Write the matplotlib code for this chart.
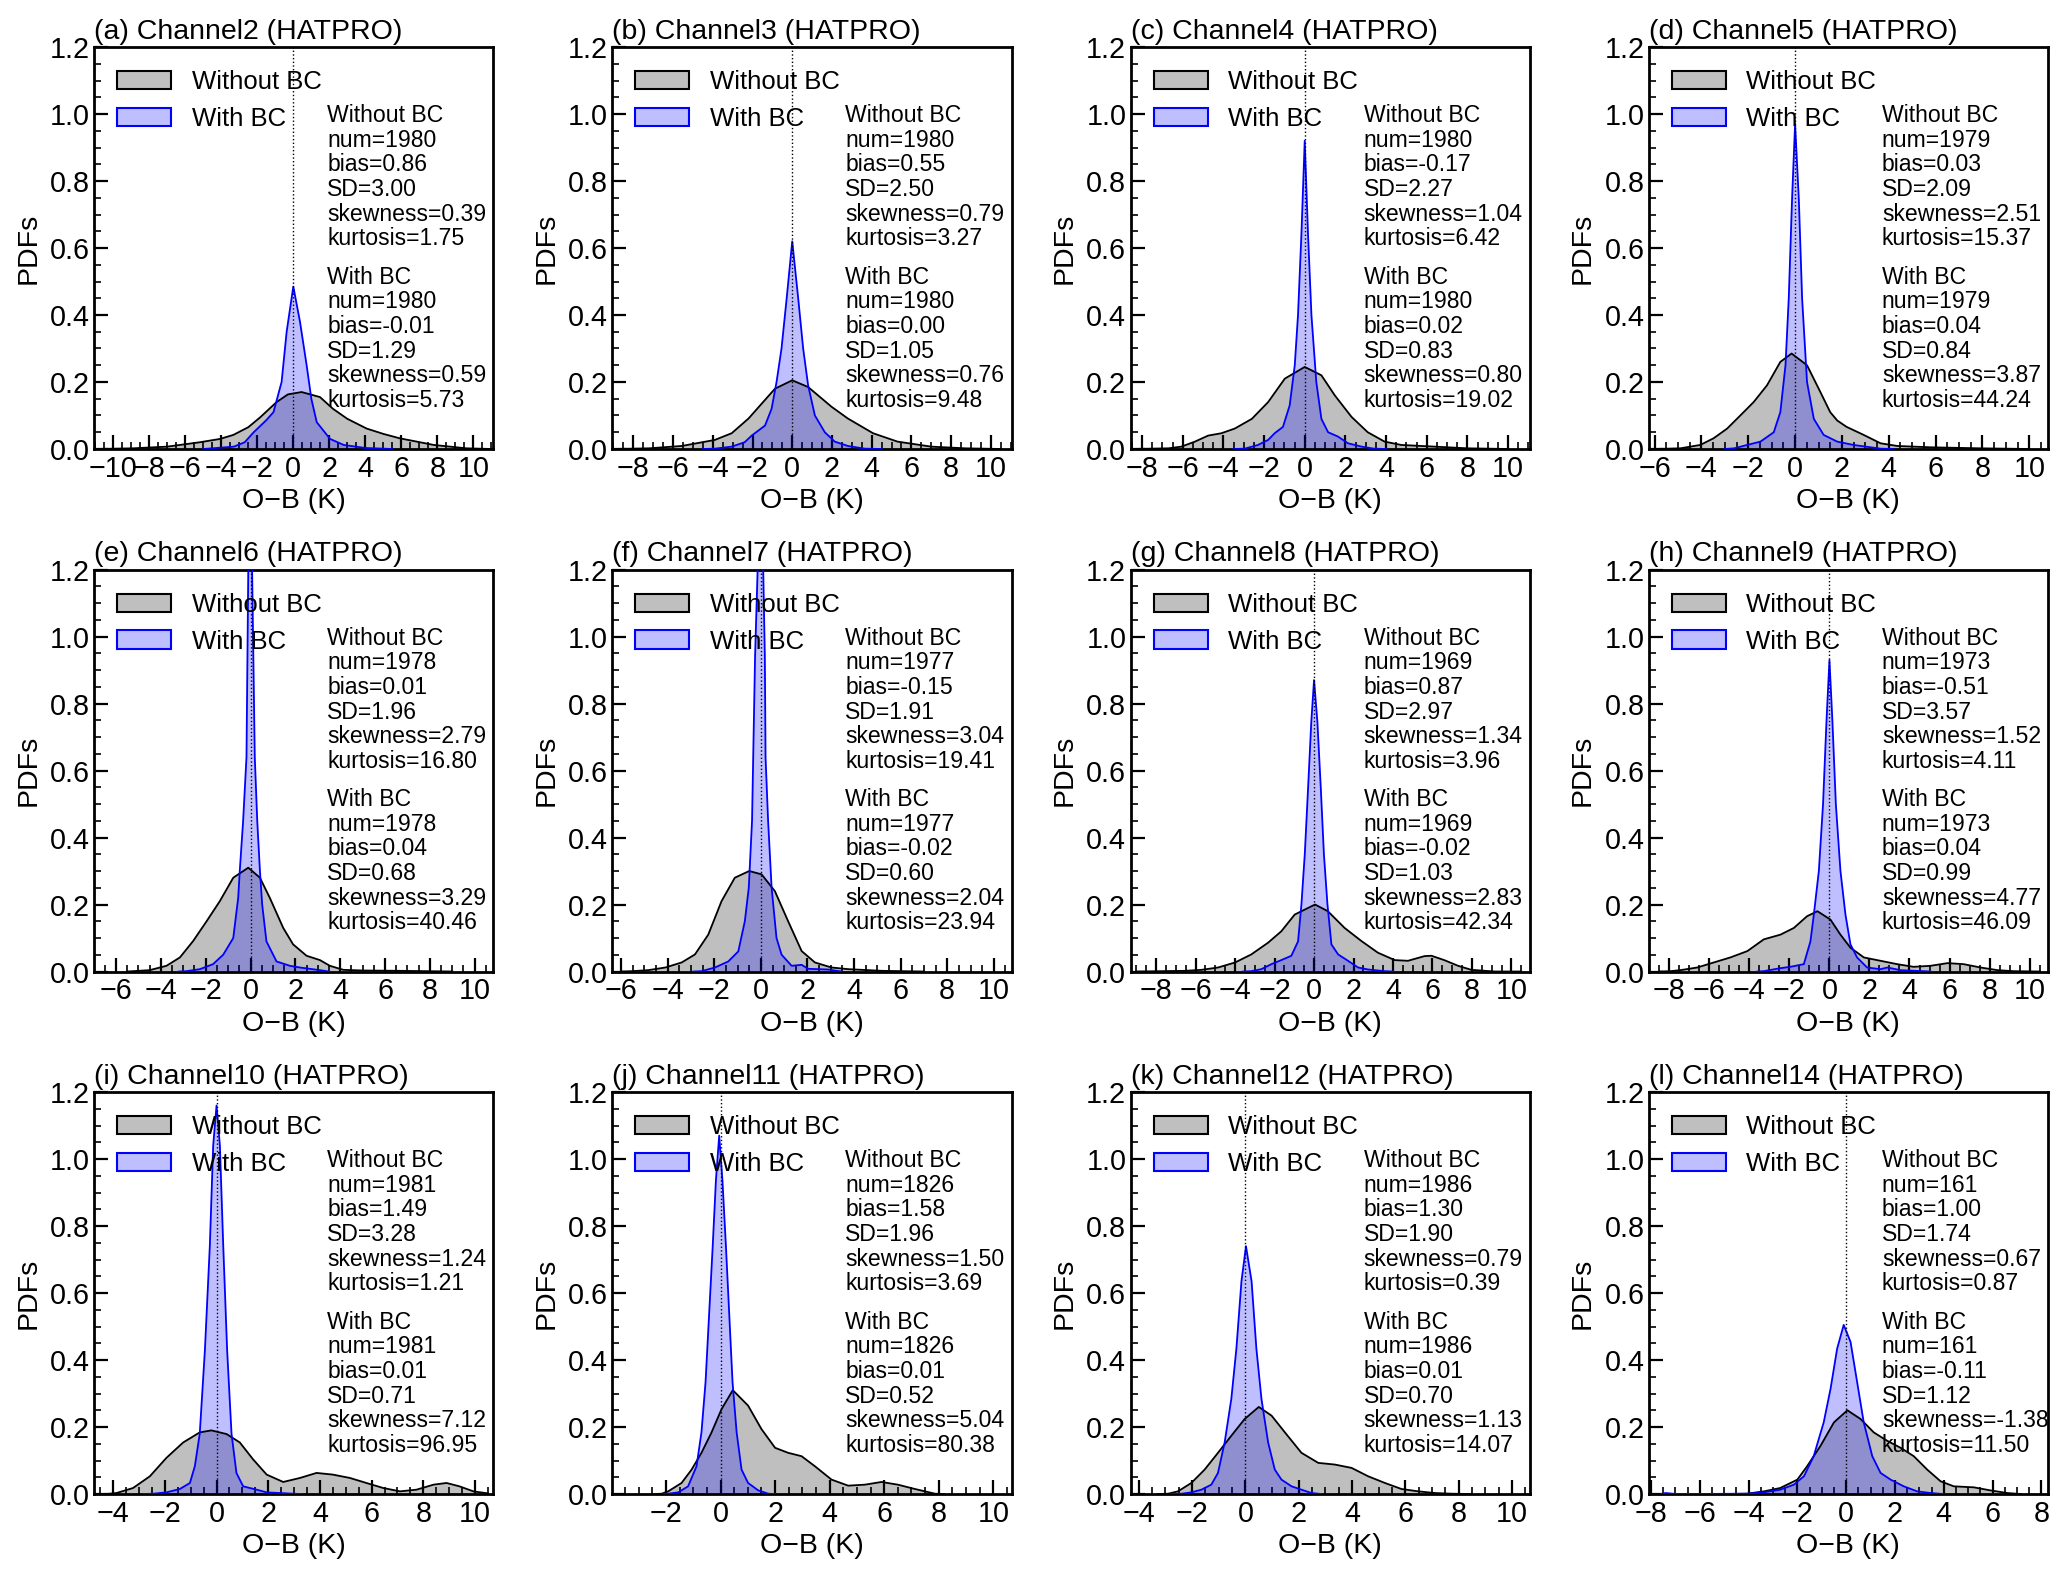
import matplotlib
matplotlib.use("Agg")
import matplotlib.pyplot as plt
from matplotlib.patches import Patch
from matplotlib.ticker import MultipleLocator

plt.rcParams['font.family'] = ['Liberation Sans', 'DejaVu Sans']

# ---------------- data ----------------
letters = ['a', 'b', 'c', 'd', 'e', 'f', 'g', 'h', 'i', 'j', 'k', 'l']
channels = [2, 3, 4, 5, 6, 7, 8, 9, 10, 11, 12, 14]
xlims = [(-11.06, 11.1), (-9.06, 11.04), (-8.57, 11.07), (-6.25, 10.8),
         (-6.98, 10.83), (-6.38, 10.76), (-9.3, 10.93), (-9.03, 10.92),
         (-4.74, 10.71), (-3.97, 10.67), (-4.31, 10.66), (-8.09, 8.27)]

# statistics (Without BC)
wo_num = [1980, 1980, 1980, 1979, 1978, 1977, 1969, 1973, 1981, 1826, 1986, 161]
wo_bias = [0.86, 0.55, -0.17, 0.03, 0.01, -0.15, 0.87, -0.51, 1.49, 1.58, 1.30, 1.00]
wo_sd = [3.00, 2.50, 2.27, 2.09, 1.96, 1.91, 2.97, 3.57, 3.28, 1.96, 1.90, 1.74]
wo_skew = [0.39, 0.79, 1.04, 2.51, 2.79, 3.04, 1.34, 1.52, 1.24, 1.50, 0.79, 0.67]
wo_kurt = [1.75, 3.27, 6.42, 15.37, 16.80, 19.41, 3.96, 4.11, 1.21, 3.69, 0.39, 0.87]
# statistics (With BC)
wb_num = [1980, 1980, 1980, 1979, 1978, 1977, 1969, 1973, 1981, 1826, 1986, 161]
wb_bias = [-0.01, 0.00, 0.02, 0.04, 0.04, -0.02, -0.02, 0.04, 0.01, 0.01, 0.01, -0.11]
wb_sd = [1.29, 1.05, 0.83, 0.84, 0.68, 0.60, 1.03, 0.99, 0.71, 0.52, 0.70, 1.12]
wb_skew = [0.59, 0.76, 0.80, 3.87, 3.29, 2.04, 2.83, 4.77, 7.12, 5.04, 1.13, -1.38]
wb_kurt = [5.73, 9.48, 19.02, 44.24, 40.46, 23.94, 42.34, 46.09, 96.95, 80.38, 14.07, 11.50]

# PDF curves: Without BC (wo) and With BC (wb)
a_wo_x = [-11.0, -8.9, -7.0, -5.2, -4.07, -3.33, -2.5, -1.85, -0.93, -0.3, 0.46, 1.48, 2.2, 3.0, 4.07, 5.0, 5.9, 7.8, 9.6, 11.0]
a_wo_y = [0.0, 0.002, 0.007, 0.02, 0.03, 0.042, 0.065, 0.094, 0.14, 0.163, 0.17, 0.155, 0.12, 0.09, 0.061, 0.045, 0.032, 0.012, 0.002, 0.0]
a_wb_x = [-5.0, -3.3, -2.7, -2.2, -1.5, -1.1, -0.65, -0.37, 0.0, 0.37, 0.74, 1.0, 1.3, 2.04, 2.8, 4.0, 5.5]
a_wb_y = [0.0, 0.007, 0.02, 0.05, 0.086, 0.11, 0.2, 0.35, 0.485, 0.38, 0.25, 0.15, 0.08, 0.03, 0.012, 0.003, 0.0]

b_wo_x = [-9.0, -7.2, -5.56, -3.9, -3.05, -2.2, -0.87, 0.0, 0.8, 1.98, 2.8, 4.07, 5.3, 7.0, 8.7, 10.5]
b_wo_y = [0.0, 0.002, 0.009, 0.027, 0.047, 0.091, 0.18, 0.205, 0.185, 0.126, 0.091, 0.047, 0.022, 0.007, 0.002, 0.0]
b_wb_x = [-4.5, -3.9, -3.05, -2.4, -2.04, -1.37, -1.04, -0.79, -0.54, -0.28, 0.0, 0.3, 0.55, 0.8, 1.14, 1.64, 2.14, 2.8, 3.65, 4.5]
b_wb_y = [0.0, 0.001, 0.007, 0.02, 0.04, 0.07, 0.12, 0.2, 0.3, 0.45, 0.62, 0.45, 0.3, 0.19, 0.1, 0.05, 0.022, 0.009, 0.001, 0.0]

c_wo_x = [-8.5, -6.7, -6.07, -5.4, -4.75, -4.1, -3.44, -2.6, -1.8, -0.98, 0.0, 0.82, 1.48, 2.3, 3.1, 3.93, 4.75, 6.4, 8.0, 10.0]
c_wo_y = [0.0, 0.002, 0.007, 0.022, 0.04, 0.047, 0.061, 0.09, 0.14, 0.21, 0.245, 0.22, 0.16, 0.096, 0.05, 0.022, 0.012, 0.007, 0.002, 0.0]
c_wb_x = [-3.5, -2.95, -2.3, -1.8, -1.48, -1.07, -0.74, -0.49, -0.33, -0.16, 0.0, 0.16, 0.33, 0.57, 0.82, 1.15, 1.64, 2.13, 2.8, 3.4, 4.0]
c_wb_y = [0.0, 0.001, 0.012, 0.027, 0.047, 0.066, 0.13, 0.25, 0.4, 0.645, 0.92, 0.645, 0.4, 0.2, 0.09, 0.05, 0.037, 0.017, 0.007, 0.001, 0.0]

d_wo_x = [-6.0, -4.9, -4.05, -3.48, -2.9, -2.34, -1.77, -1.2, -0.63, -0.15, 0.51, 1.08, 1.5, 1.8, 2.2, 2.93, 3.65, 4.36, 5.8, 7.9, 10.0]
d_wo_y = [0.0, 0.002, 0.012, 0.032, 0.061, 0.10, 0.14, 0.19, 0.26, 0.285, 0.25, 0.17, 0.11, 0.085, 0.066, 0.042, 0.017, 0.009, 0.005, 0.002, 0.0]
d_wb_x = [-3.0, -2.6, -2.05, -1.48, -0.91, -0.63, -0.41, -0.27, -0.13, 0.0, 0.16, 0.3, 0.51, 0.8, 1.22, 1.8, 2.5, 3.65, 4.2]
d_wb_y = [0.0, 0.002, 0.012, 0.022, 0.05, 0.11, 0.25, 0.45, 0.745, 0.97, 0.745, 0.45, 0.2, 0.09, 0.042, 0.022, 0.012, 0.001, 0.0]

e_wo_x = [-5.5, -4.5, -3.75, -3.15, -2.56, -1.96, -1.37, -0.77, -0.1, 0.42, 0.86, 1.46, 1.9, 2.5, 3.1, 3.54, 4.14, 5.0, 6.7, 9.0]
e_wo_y = [0.0, 0.004, 0.017, 0.042, 0.091, 0.15, 0.21, 0.28, 0.31, 0.28, 0.22, 0.13, 0.081, 0.047, 0.034, 0.017, 0.005, 0.003, 0.002, 0.0]
e_wb_x = [-3.2, -2.86, -2.26, -1.67, -1.22, -0.77, -0.55, -0.48, -0.33, -0.18, -0.1, 0.0, 0.07, 0.19, 0.3, 0.42, 0.52, 0.71, 1.16, 1.76, 2.2, 3.1, 3.5]
e_wb_y = [0.0, 0.001, 0.007, 0.022, 0.05, 0.1, 0.22, 0.3, 0.45, 0.64, 1.2, 1.35, 1.2, 0.64, 0.45, 0.3, 0.2, 0.09, 0.03, 0.017, 0.012, 0.004, 0.0]

f_wo_x = [-6.0, -5.55, -4.84, -4.1, -3.4, -2.83, -2.26, -1.69, -1.12, -0.5, 0.03, 0.6, 1.17, 1.75, 2.32, 3.03, 3.75, 5.2, 7.0]
f_wo_y = [0.0, 0.001, 0.004, 0.012, 0.027, 0.051, 0.11, 0.21, 0.28, 0.30, 0.29, 0.24, 0.15, 0.061, 0.027, 0.012, 0.007, 0.002, 0.0]
f_wb_x = [-2.9, -2.55, -1.97, -1.4, -0.97, -0.69, -0.52, -0.38, -0.33, -0.25, -0.14, 0.0, 0.1, 0.17, 0.2, 0.31, 0.46, 0.67, 0.89, 1.32, 1.75, 2.03, 2.9, 3.46]
f_wb_y = [0.0, 0.001, 0.012, 0.03, 0.06, 0.15, 0.25, 0.45, 0.64, 0.94, 1.2, 1.55, 1.2, 0.94, 0.64, 0.45, 0.25, 0.1, 0.05, 0.017, 0.02, 0.008, 0.006, 0.0]

g_wo_x = [-9.0, -6.55, -5.7, -4.86, -4.0, -3.18, -2.33, -1.66, -0.98, 0.05, 0.7, 1.55, 2.4, 3.24, 4.09, 4.76, 5.6, 5.95, 6.6, 7.3, 7.97, 9.15, 10.5]
g_wo_y = [0.0, 0.002, 0.005, 0.012, 0.027, 0.051, 0.086, 0.12, 0.17, 0.2, 0.18, 0.13, 0.091, 0.056, 0.034, 0.032, 0.046, 0.047, 0.034, 0.017, 0.005, 0.0, 0.0]
g_wb_x = [-3.6, -3.18, -2.67, -2.16, -1.66, -1.15, -0.81, -0.64, -0.47, -0.3, -0.14, 0.0, 0.17, 0.34, 0.5, 0.68, 0.88, 1.22, 1.72, 2.23, 2.74, 3.58, 4.0]
g_wb_y = [0.0, 0.001, 0.007, 0.022, 0.034, 0.047, 0.09, 0.2, 0.35, 0.55, 0.745, 0.87, 0.745, 0.55, 0.35, 0.2, 0.081, 0.051, 0.032, 0.012, 0.006, 0.001, 0.0]

h_wo_x = [-8.5, -7.95, -7.45, -6.6, -5.78, -4.95, -4.1, -3.28, -2.45, -1.78, -1.12, -0.6, 0.05, 0.55, 1.05, 1.72, 2.55, 3.38, 4.2, 5.05, 5.9, 6.7, 7.55, 8.4, 9.2, 10.5]
h_wo_y = [0.0, 0.001, 0.004, 0.012, 0.027, 0.042, 0.061, 0.096, 0.11, 0.13, 0.165, 0.18, 0.155, 0.11, 0.071, 0.042, 0.032, 0.022, 0.014, 0.017, 0.025, 0.022, 0.012, 0.004, 0.001, 0.0]
h_wb_x = [-3.6, -3.28, -2.45, -1.95, -1.28, -0.95, -0.78, -0.53, -0.32, -0.15, 0.0, 0.15, 0.32, 0.55, 0.8, 1.05, 1.38, 1.88, 2.55, 2.9, 3.55, 5.05]
h_wb_y = [0.0, 0.001, 0.01, 0.014, 0.022, 0.09, 0.17, 0.3, 0.5, 0.745, 0.93, 0.745, 0.5, 0.3, 0.17, 0.081, 0.042, 0.012, 0.007, 0.012, 0.004, 0.0]

i_wo_x = [-4.3, -3.87, -3.23, -2.58, -1.94, -1.29, -0.65, -0.2, 0.39, 0.9, 1.42, 1.94, 2.58, 3.23, 3.87, 4.5, 5.16, 5.8, 6.45, 7.1, 7.74, 8.4, 8.9, 9.4, 9.94, 10.5]
i_wo_y = [0.0, 0.003, 0.018, 0.053, 0.108, 0.154, 0.184, 0.19, 0.179, 0.154, 0.103, 0.058, 0.036, 0.048, 0.063, 0.058, 0.048, 0.033, 0.018, 0.008, 0.013, 0.028, 0.033, 0.023, 0.008, 0.002]
i_wb_x = [-2.8, -2.45, -1.94, -1.42, -1.03, -0.84, -0.65, -0.45, -0.26, -0.13, 0.0, 0.13, 0.26, 0.41, 0.58, 0.77, 1.03, 1.55, 1.94, 2.97, 3.3]
i_wb_y = [0.0, 0.001, 0.005, 0.015, 0.033, 0.083, 0.18, 0.43, 0.74, 1.04, 1.16, 1.04, 0.74, 0.43, 0.18, 0.063, 0.023, 0.013, 0.005, 0.001, 0.0]

j_wo_x = [-2.4, -2.16, -1.92, -1.43, -1.06, -0.7, -0.33, 0.04, 0.45, 1.01, 1.5, 2.0, 2.48, 2.97, 3.46, 4.07, 4.68, 5.3, 5.9, 6.5, 7.13, 7.86, 8.2]
j_wo_y = [0.0, 0.001, 0.008, 0.033, 0.073, 0.123, 0.184, 0.254, 0.31, 0.264, 0.194, 0.138, 0.123, 0.113, 0.083, 0.043, 0.025, 0.028, 0.036, 0.028, 0.015, 0.001, 0.0]
j_wb_x = [-2.1, -1.92, -1.55, -1.19, -0.88, -0.7, -0.55, -0.42, -0.29, -0.17, -0.05, 0.07, 0.2, 0.32, 0.44, 0.59, 0.77, 1.01, 1.38, 1.75, 2.0]
j_wb_y = [0.0, 0.001, 0.005, 0.023, 0.083, 0.184, 0.334, 0.535, 0.736, 0.936, 1.07, 0.936, 0.736, 0.535, 0.334, 0.184, 0.073, 0.033, 0.011, 0.001, 0.0]

k_wo_x = [-3.3, -2.9, -2.53, -2.03, -1.53, -1.03, -0.53, -0.03, 0.5, 0.98, 1.48, 2.1, 2.73, 3.35, 3.98, 4.6, 5.23, 5.85, 6.48, 7.1, 7.73, 8.5]
k_wo_y = [0.0, 0.001, 0.008, 0.033, 0.073, 0.123, 0.174, 0.224, 0.26, 0.234, 0.184, 0.123, 0.093, 0.088, 0.078, 0.053, 0.033, 0.015, 0.008, 0.003, 0.001, 0.0]
k_wb_x = [-2.8, -2.4, -2.03, -1.65, -1.28, -1.03, -0.78, -0.53, -0.34, -0.15, 0.02, 0.23, 0.41, 0.6, 0.85, 1.1, 1.35, 1.73, 2.1, 2.48, 2.85]
k_wb_y = [0.0, 0.001, 0.005, 0.013, 0.028, 0.063, 0.154, 0.284, 0.434, 0.635, 0.74, 0.635, 0.434, 0.284, 0.154, 0.073, 0.043, 0.023, 0.013, 0.003, 0.0]

l_wo_x = [-5.0, -4.06, -3.37, -2.7, -2.0, -1.6, -1.05, -0.5, 0.05, 0.59, 1.13, 1.68, 2.23, 2.77, 3.32, 3.87, 4.41, 5.23, 5.9, 6.6, 7.15]
l_wo_y = [0.0, 0.001, 0.008, 0.018, 0.043, 0.083, 0.144, 0.214, 0.25, 0.224, 0.184, 0.159, 0.138, 0.113, 0.073, 0.038, 0.023, 0.02, 0.011, 0.003, 0.0]
l_wb_x = [-7.6, -7.4, -7.1, -6.8, -4.06, -3.37, -2.7, -2.14, -1.73, -1.33, -0.92, -0.64, -0.37, -0.1, 0.18, 0.45, 0.72, 1.07, 1.41, 1.82, 2.36, 2.91, 3.46, 4.0]
l_wb_y = [0.0, 0.003, 0.001, 0.0, 0.001, 0.005, 0.013, 0.028, 0.053, 0.113, 0.214, 0.314, 0.434, 0.505, 0.454, 0.334, 0.214, 0.113, 0.063, 0.043, 0.023, 0.008, 0.003, 0.0]

wo_curves = [(a_wo_x, a_wo_y), (b_wo_x, b_wo_y), (c_wo_x, c_wo_y), (d_wo_x, d_wo_y),
             (e_wo_x, e_wo_y), (f_wo_x, f_wo_y), (g_wo_x, g_wo_y), (h_wo_x, h_wo_y),
             (i_wo_x, i_wo_y), (j_wo_x, j_wo_y), (k_wo_x, k_wo_y), (l_wo_x, l_wo_y)]
wb_curves = [(a_wb_x, a_wb_y), (b_wb_x, b_wb_y), (c_wb_x, c_wb_y), (d_wb_x, d_wb_y),
             (e_wb_x, e_wb_y), (f_wb_x, f_wb_y), (g_wb_x, g_wb_y), (h_wb_x, h_wb_y),
             (i_wb_x, i_wb_y), (j_wb_x, j_wb_y), (k_wb_x, k_wb_y), (l_wb_x, l_wb_y)]

# ---------------- figure ----------------
fig, axes = plt.subplots(3, 4, figsize=(20.67, 15.84), dpi=100)
fig.subplots_adjust(left=0.0455, right=0.9908, bottom=0.0568, top=0.9703,
                    wspace=0.298, hspace=0.30)

gray_fill = (0.5, 0.5, 0.5, 0.5)
blue_fill = (0.0, 0.0, 1.0, 0.25)

for idx, ax in enumerate(axes.flat):
    xo, yo = wo_curves[idx]
    xb, yb = wb_curves[idx]
    ax.fill_between(xo, yo, 0, facecolor=gray_fill, edgecolor='none', zorder=1)
    ax.fill_between(xb, yb, 0, facecolor=blue_fill, edgecolor='none', zorder=2)
    ax.plot(xo, yo, color='black', lw=1.3, zorder=3)
    ax.plot(xb, yb, color='blue', lw=1.3, zorder=4)
    ax.axvline(0, color='black', ls=':', lw=1.0, zorder=5)

    ax.set_xlim(*xlims[idx])
    ax.set_ylim(0, 1.2)
    ax.xaxis.set_major_locator(MultipleLocator(2))
    ax.xaxis.set_minor_locator(MultipleLocator(0.5))
    ax.yaxis.set_major_locator(MultipleLocator(0.2))
    ax.yaxis.set_minor_locator(MultipleLocator(0.05))
    ax.tick_params(which='both', direction='in', top=False, right=False)
    ax.tick_params(which='major', length=10, width=1.6, labelsize=20.7)
    ax.tick_params(which='minor', length=5, width=1.2)
    ax.tick_params(axis='x', which='major', pad=4)
    ax.tick_params(axis='y', which='major', pad=3)
    for sp in ax.spines.values():
        sp.set_linewidth(2.0)

    ax.set_xlabel('O\u2212B (K)', fontsize=20.5, labelpad=4)
    ax.set_ylabel('PDFs', fontsize=20.5, labelpad=6)
    ax.set_title(f'({letters[idx]}) Channel{channels[idx]} (HATPRO)',
                 loc='left', fontsize=20.5, pad=6)

    handles = [Patch(facecolor=gray_fill, edgecolor='black', lw=1.5, label='Without BC'),
               Patch(facecolor=blue_fill, edgecolor='blue', lw=1.5, label='With BC')]
    ax.legend(handles=handles, loc='upper left', frameon=False, fontsize=18.5,
              handlelength=2.1, handleheight=0.72, labelspacing=0.5,
              handletextpad=0.8, borderaxespad=0.5)

    txt1 = (f"Without BC\nnum={wo_num[idx]}\nbias={wo_bias[idx]:.2f}\n"
            f"SD={wo_sd[idx]:.2f}\nskewness={wo_skew[idx]:.2f}\nkurtosis={wo_kurt[idx]:.2f}")
    txt2 = (f"With BC\nnum={wb_num[idx]}\nbias={wb_bias[idx]:.2f}\n"
            f"SD={wb_sd[idx]:.2f}\nskewness={wb_skew[idx]:.2f}\nkurtosis={wb_kurt[idx]:.2f}")
    ax.text(0.584, 0.858, txt1, transform=ax.transAxes, ha='left', va='top',
            fontsize=16.6, linespacing=1.09, zorder=6)
    ax.text(0.584, 0.456, txt2, transform=ax.transAxes, ha='left', va='top',
            fontsize=16.6, linespacing=1.09, zorder=6)

fig.savefig('out.png', dpi=100)
